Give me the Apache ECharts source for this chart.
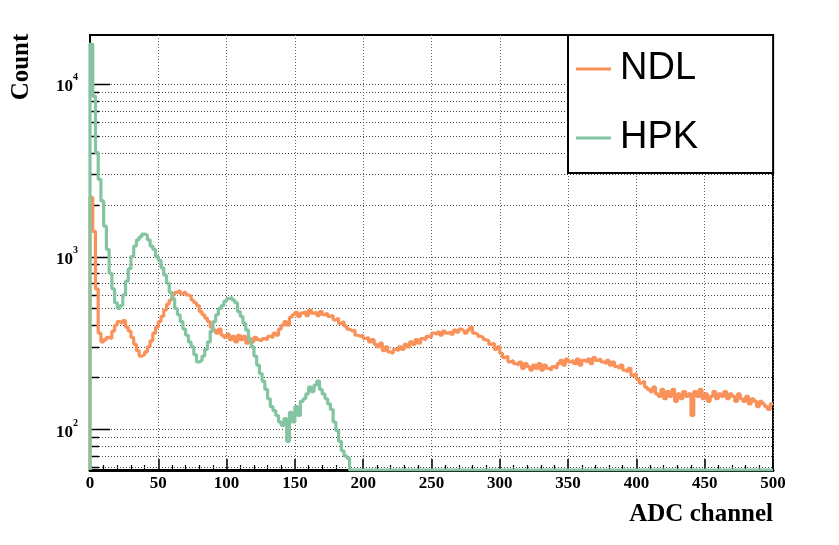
<!DOCTYPE html>
<html><head><meta charset="utf-8">
<script src="https://cdn.jsdelivr.net/npm/echarts@6/dist/echarts.min.js"></script>
<style>html,body{margin:0;padding:0;background:#fff}#c{width:839px;height:545px}</style>
</head><body><div id="c"></div>
<script>
const BIN_WIDTH = 2;
const X_MIN = 0, X_MAX = 500, X_INTERVAL = 50;
const Y_MIN = 58, Y_MAX = 19200;
const seriesNames = ['NDL', 'HPK'];
const yGridValues = [60,70,80,90,100,200,300,400,500,600,700,800,900,1000,2000,3000,4000,5000,6000,7000,8000,9000,10000];

// NDL counts, bins of width 2 starting at channel 0
const ndlCounts = [
  2200,1400,650,360,320,330,340,335,370,400,
  420,410,425,390,370,340,310,285,265,270,
  280,300,325,360,390,420,450,490,530,560,
  600,620,635,610,625,600,590,560,540,520,
  480,460,440,420,390,375,360,380,350,340,
  355,330,345,320,350,330,345,315,335,320,
  340,330,325,335,330,345,340,360,350,380,
  400,420,400,445,460,475,450,470,480,455,
  490,470,475,455,480,460,470,450,455,430,
  440,410,420,395,380,370,375,350,345,350,
  335,340,320,330,310,300,315,285,300,280,
  275,290,285,300,290,310,300,320,310,330,
  315,335,330,345,340,360,355,365,350,370,
  360,365,355,375,365,380,370,360,375,390,
  360,355,345,340,330,325,310,315,290,300,
  275,260,265,245,250,240,235,245,225,240,
  230,220,235,225,240,220,235,225,220,230,
  225,240,250,235,255,245,250,240,255,235,
  250,245,255,240,260,250,255,245,240,250,
  235,245,230,225,235,220,215,225,205,210,
  195,185,190,175,170,165,175,160,155,170,
  150,165,155,170,145,160,150,165,155,160,
  120,165,155,170,150,160,145,155,165,150,
  160,155,165,150,160,155,145,160,150,145,
  155,140,150,145,135,145,140,135,130,140
];

// HPK counts, bins of width 2 starting at channel 0 (0 = empty bin, drawn on the bottom edge)
const hpkCounts = [
  17000,8500,4000,2800,2100,1500,1100,800,650,540,
  500,520,600,720,850,1000,1150,1250,1300,1350,
  1330,1250,1150,1100,1000,950,860,780,700,620,
  570,500,460,420,380,350,320,300,270,245,
  250,265,290,320,370,420,460,500,520,550,
  570,580,560,540,480,450,410,375,330,300,
  265,235,210,190,170,150,135,128,120,110,
  105,115,85,125,110,135,120,145,150,160,
  175,165,180,190,170,160,150,140,130,110,
  98,85,75,70,68,0,0,0,0,0,
  0,0,0,0,0,0,0,0,0,0,
  0,0,0,0,0,0,0,0,0,0,
  0,0,0,0,0,0,0,0,0,0,
  0,0,0,0,0,0,0,0,0,0,
  0,0,0,0,0,0,0,0,0,0,
  0,0,0,0,0,0,0,0,0,0,
  0,0,0,0,0,0,0,0,0,0,
  0,0,0,0,0,0,0,0,0,0,
  0,0,0,0,0,0,0,0,0,0,
  0,0,0,0,0,0,0,0,0,0,
  0,0,0,0,0,0,0,0,0,0,
  0,0,0,0,0,0,0,0,0,0,
  0,0,0,0,0,0,0,0,0,0,
  0,0,0,0,0,0,0,0,0,0,
  0,0,0,0,0,0,0,0,0,0
];

const COLORS = { NDL: '#F9925A', HPK: '#84C4A2' };
const SERIF = '"Liberation Serif", "Times New Roman", serif';

function toSteps(counts) {
  const pts = [[X_MIN, Y_MIN]];
  counts.forEach((c, i) => pts.push([X_MIN + i * BIN_WIDTH, Math.max(c, Y_MIN)]));
  pts.push([X_MIN + counts.length * BIN_WIDTH, Math.max(counts[counts.length - 1], Y_MIN)]);
  return pts;
}

const chart = echarts.init(document.getElementById('c'), null, { renderer: 'canvas' });
chart.setOption({
  animation: false,
  backgroundColor: '#fff',
  grid: { left: 90, right: 66, top: 35, bottom: 75, show: true, borderColor: '#000', borderWidth: 2, backgroundColor: 'transparent' },
  xAxis: {
    type: 'value', min: X_MIN, max: X_MAX, interval: X_INTERVAL,
    axisLine: { show: true, lineStyle: { color: '#000', width: 3 } },
    axisTick: { show: true, inside: true, length: 11, lineStyle: { color: '#000', width: 1.5 } },
    minorTick: { show: true, splitNumber: 5, length: 5, lineStyle: { color: '#000', width: 1.2 } },
    splitLine: { show: true, lineStyle: { color: '#666', width: 1, type: [1, 2] } },
    axisLabel: { color: '#000', fontFamily: SERIF, fontWeight: 'bold', fontSize: 17, margin: 5 }
  },
  yAxis: {
    type: 'log', logBase: 10, min: Y_MIN, max: Y_MAX,
    axisLine: { show: true, lineStyle: { color: '#000', width: 2 } },
    axisTick: { show: false },
    splitLine: { show: false },
    axisLabel: {
      margin: 12,
      showMinLabel: false, showMaxLabel: false,
      formatter: v => {
        const e = Math.log10(v);
        if (Math.abs(e - Math.round(e)) > 1e-6) return '';
        return '{b|10}{s|' + Math.round(e) + '}';
      },
      rich: {
        b: { fontFamily: SERIF, fontWeight: 'bold', fontSize: 17, color: '#000', lineHeight: 22, padding: [6, 0, 0, 0] },
        s: { fontFamily: SERIF, fontWeight: 'bold', fontSize: 10, color: '#000', lineHeight: 22, verticalAlign: 'top' }
      }
    }
  },
  legend: {
    orient: 'vertical', left: 568, top: 35, icon: 'rect', itemWidth: 35, itemHeight: 3,
    itemGap: 29, padding: [14, 75, 15, 8], backgroundColor: '#fff', borderColor: '#000', borderWidth: 2,
    textStyle: { fontFamily: '"Liberation Sans", Arial, sans-serif', fontSize: 38, color: '#000', lineHeight: 40, padding: [0, 0, 0, 4] },
    data: seriesNames, selectedMode: false
  },
  graphic: [
    { type: 'text', right: 66, top: 502, style: { text: 'ADC channel', font: 'bold 25px ' + SERIF, fill: '#000' } },
    { type: 'text', x: 22, y: 67, rotation: Math.PI / 2, style: { text: 'Count', font: 'bold 25px ' + SERIF, fill: '#000', align: 'center', verticalAlign: 'middle' } }
  ],
  series: [
    {
      type: 'custom', name: 'grid', z: 1, silent: true, clip: true,
      data: yGridValues.map(v => [X_MIN, v]),
      encode: { x: 0, y: 1 },
      renderItem: (params, api) => {
        const v = api.value(1);
        const a = api.coord([X_MIN, v]);
        const b = api.coord([X_MAX, v]);
        const y = Math.round(a[1]) + 0.5;
        const major = Math.abs(Math.log10(v) - Math.round(Math.log10(v))) < 1e-9;
        const len = major ? 20 : 9;
        return { type: 'group', children: [
          { type: 'line', shape: { x1: a[0], y1: y, x2: b[0], y2: y }, style: { stroke: '#444', lineWidth: 1, lineDash: [1, 2] } },
          { type: 'line', shape: { x1: a[0], y1: y, x2: a[0] + len, y2: y }, style: { stroke: '#000', lineWidth: 1.5 } }
        ] };
      }
    },
    {
      type: 'line', name: 'NDL', step: 'end', showSymbol: false, symbol: 'none', z: 3,
      data: toSteps(ndlCounts), color: COLORS.NDL,
      lineStyle: { color: COLORS.NDL, width: 3.2 }
    },
    {
      type: 'line', name: 'HPK', step: 'end', showSymbol: false, symbol: 'none', z: 4,
      data: toSteps(hpkCounts), color: COLORS.HPK,
      lineStyle: { color: COLORS.HPK, width: 3.2 }
    }
  ]
});
</script>
</body></html>
